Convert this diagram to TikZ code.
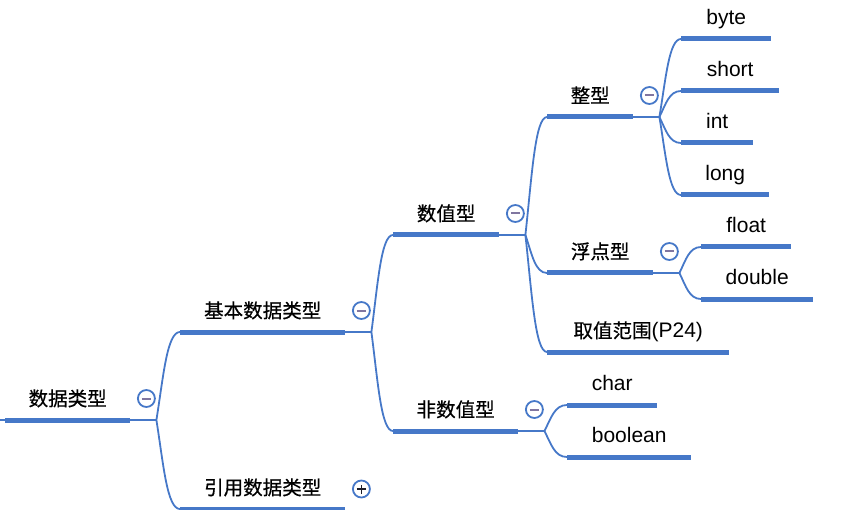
\documentclass[tikz,border=0pt]{standalone}
\usepackage{fontspec}
\setmainfont{Liberation Sans}
\newfontfamily\cjk{Noto Sans CJK SC}[Scale=0.93,FakeBold=0.6]
\newcommand\zhtxt[1]{{\cjk #1}}
\usetikzlibrary{calc}
\definecolor{mmblue}{RGB}{70,120,200}
\definecolor{mmminus}{RGB}{128,118,160}
\definecolor{mmplus}{RGB}{30,30,40}
\begin{document}
\begin{tikzpicture}[x=1pt,y=-1pt,
  font=\fontsize{21}{25}\selectfont,
  uline/.style={draw=mmblue, line width=5pt},
  link/.style={draw=mmblue, line width=1.8pt},
  topic/.style={anchor=south west, inner xsep=0pt, inner ysep=0pt,
    text depth=14pt, minimum width=#1,
    append after command={(\tikzlastnode.south west) edge[uline] (\tikzlastnode.south east)}},
  mmcurve/.style={to path={let \p1=(\tikztostart), \p2=(\tikztotarget) in
    .. controls ({\x1+0.3*(\x2-\x1)},{\y1+0.5*(\y2-\y1)}) and ({\x1+0.45*(\x2-\x1)},{\y2}) .. (\tikztotarget)}},
  collapse/.style={circle, draw=mmblue, line width=1.8pt, fill=white,
    minimum size=17pt, inner sep=0pt,
    path picture={\draw[mmminus, line width=2pt]
      ([xshift=-4.5pt]path picture bounding box.center) -- ([xshift=4.5pt]path picture bounding box.center);}},
  expand/.style={circle, draw=mmblue, line width=1.8pt, fill=white,
    minimum size=17pt, inner sep=0pt,
    path picture={\draw[mmplus, line width=1.8pt]
      ([xshift=-4.5pt]path picture bounding box.center) -- ([xshift=4.5pt]path picture bounding box.center)
      ([yshift=-4.5pt]path picture bounding box.center) -- ([yshift=4.5pt]path picture bounding box.center);}},
]
\useasboundingbox (0,0) rectangle (858,510);

% topics
\node[topic=125] (root) at (5,420) {\zhtxt{数据类型}};
\node[topic=165] (jb) at (180,332) {\zhtxt{基本数据类型}};
\node[topic=165] (yy) at (180,509) {\zhtxt{引用数据类型}};
\node[topic=106] (sz) at (393,235) {\zhtxt{数值型}};
\node[topic=125] (fsz) at (393,431) {\zhtxt{非数值型}};
\node[topic=86] (zx) at (547,117) {\zhtxt{整型}};
\node[topic=106] (fd) at (547,273) {\zhtxt{浮点型}};
\node[topic=182] (qz) at (547,352) {\zhtxt{取值范围}(P24)};
\node[topic=90] (byte) at (681,39) {byte};
\node[topic=98] (short) at (681,91) {short};
\node[topic=72] (int) at (681,143) {int};
\node[topic=88] (long) at (681,195) {long};
\node[topic=90] (float) at (701,247) {float};
\node[topic=112] (double) at (701,299) {double};
\node[topic=90] (char) at (567,405) {char};
\node[topic=124] (boolean) at (567,457) {boolean};

% junctions
\foreach \n in {root,jb,sz,fsz,zx,fd}{
  \coordinate (\n J) at ([xshift=26pt]\n.south east);
  \draw[link] (\n.south east) -- (\n J);
}
\draw[link] (0,420) -- (root.south west);

% connectors
\draw[link] (rootJ) to[mmcurve] (jb.south west);
\draw[link] (rootJ) to[mmcurve] (yy.south west);
\draw[link] (jbJ) to[mmcurve] (sz.south west);
\draw[link] (jbJ) to[mmcurve] (fsz.south west);
\draw[link] (szJ) to[mmcurve] (zx.south west);
\draw[link] (szJ) to[mmcurve] (fd.south west);
\draw[link] (szJ) to[mmcurve] (qz.south west);
\draw[link] (zxJ) to[mmcurve] (byte.south west);
\draw[link] (zxJ) to[mmcurve] (short.south west);
\draw[link] (zxJ) to[mmcurve] (int.south west);
\draw[link] (zxJ) to[mmcurve] (long.south west);
\draw[link] (fdJ) to[mmcurve] (float.south west);
\draw[link] (fdJ) to[mmcurve] (double.south west);
\draw[link] (fszJ) to[mmcurve] (char.south west);
\draw[link] (fszJ) to[mmcurve] (boolean.south west);

% collapse / expand buttons
\node[collapse] (rootC) at ([xshift=16pt,yshift=21.5pt]root.south east) {};
\node[collapse] (jbC) at ([xshift=16pt,yshift=21.5pt]jb.south east) {};
\node[collapse] (szC) at ([xshift=16pt,yshift=21.5pt]sz.south east) {};
\node[collapse] (fszC) at ([xshift=16pt,yshift=21.5pt]fsz.south east) {};
\node[collapse] (zxC) at ([xshift=16pt,yshift=21.5pt]zx.south east) {};
\node[collapse] (fdC) at ([xshift=16pt,yshift=21.5pt]fd.south east) {};
\node[expand] (yyC) at ([xshift=16pt,yshift=20pt]yy.south east) {};
\end{tikzpicture}
\end{document}
